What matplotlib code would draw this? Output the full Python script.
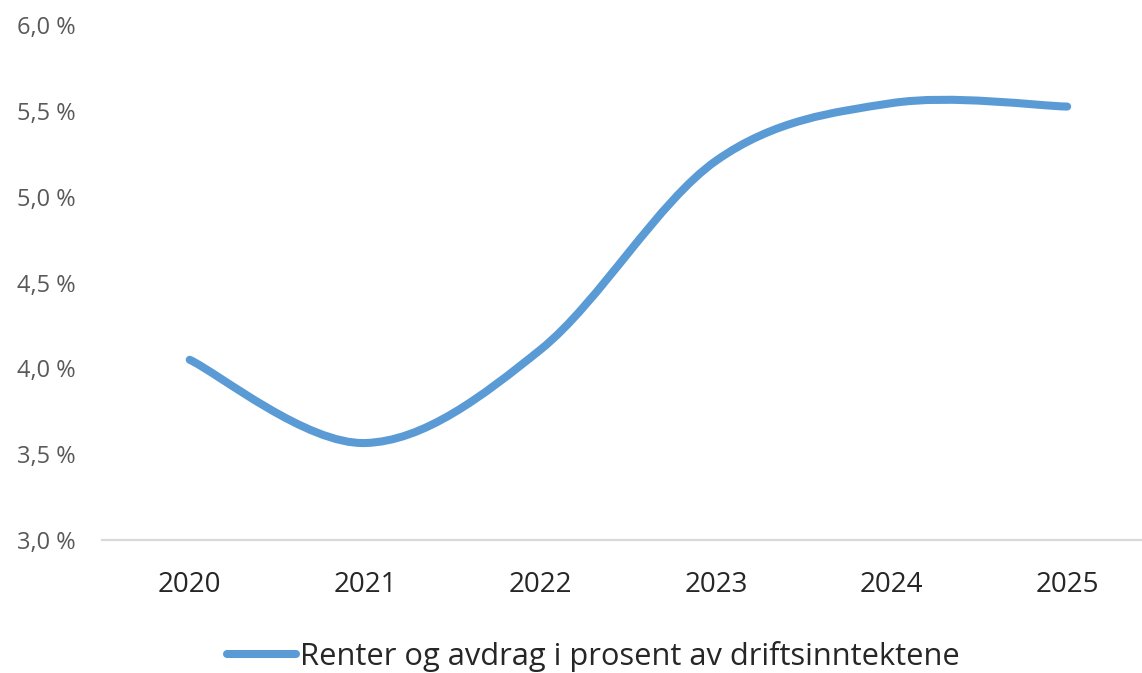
# IMPORT PACKAGES ------------------------------------------------------------+
import numpy as np
import matplotlib
matplotlib.use('Agg')
import matplotlib.pyplot as plt
from matplotlib.path import Path
from matplotlib.patches import PathPatch
from matplotlib.lines import Line2D

# DATA -----------------------------------------------------------------------+
years = ['2020', '2021', '2022', '2023', '2024', '2025']
share = [4.05, 3.565, 4.11, 5.21, 5.545, 5.525]
y_ticks = [3.0, 3.5, 4.0, 4.5, 5.0, 5.5, 6.0]
series_name = 'Renter og avdrag i prosent av driftsinntektene'

# STYLE ----------------------------------------------------------------------+
plt.rcParams['font.family'] = ['Open Sans', 'DejaVu Sans']
blue = '#5B9BD5'

# SMOOTH LINE (Excel-like bezier) --------------------------------------------+
def smooth_path(x, y):
	n = len(x)
	verts = [(x[0], y[0])]
	codes = [Path.MOVETO]
	for i in range(0, n - 1):
		x0, y0 = (x[i - 1], y[i - 1]) if i > 0 else (x[i], y[i])
		x3, y3 = (x[i + 2], y[i + 2]) if i + 2 < n else (x[i + 1], y[i + 1])
		c1 = (x[i] + (x[i + 1] - x0) / 6, y[i] + (y[i + 1] - y0) / 6)
		c2 = (x[i + 1] - (x3 - x[i]) / 6, y[i + 1] - (y3 - y[i]) / 6)
		verts += [c1, c2, (x[i + 1], y[i + 1])]
		codes += [Path.CURVE4] * 3
	return Path(verts, codes)

# PLOT -----------------------------------------------------------------------+
fig = plt.figure(figsize=(11.42, 6.73), dpi=100)
ax = fig.add_axes([0.0893, 0.1976, 0.922, 0.7652])

xs = np.arange(len(years))
patch = PathPatch(smooth_path(xs, share), facecolor='none', edgecolor=blue,
	lw=5.8, capstyle='round', joinstyle='round')
ax.add_patch(patch)

ax.set_xlim(-0.5, len(years) - 0.5)
ax.set_ylim(3.0, 6.0)
ax.set_xticks(xs)
ax.set_xticklabels(years)
ax.set_yticks(y_ticks)
ax.set_yticklabels([('%.1f %%' % v).replace('.', ',') for v in y_ticks])

for s in ['top', 'right', 'left']:
	ax.spines[s].set_visible(False)
ax.spines['bottom'].set_color('#D9D9D9')
ax.spines['bottom'].set_linewidth(1.6)

ax.tick_params(axis='y', length=0, pad=19, labelsize=17, labelcolor='#595959')
ax.tick_params(axis='x', length=0, pad=22, labelsize=20, labelcolor='#262626')

handle = Line2D([], [], color=blue, lw=5.8, solid_capstyle='round')
fig.legend([handle], [series_name], loc='center', bbox_to_anchor=(0.5197, 0.025),
	frameon=False, fontsize=22.2, handlelength=2.25, handletextpad=0.12,
	labelcolor='#262626')

plt.savefig('out.png', dpi=100)
plt.close(fig)

# END ------------------------------------------------------------------------+
